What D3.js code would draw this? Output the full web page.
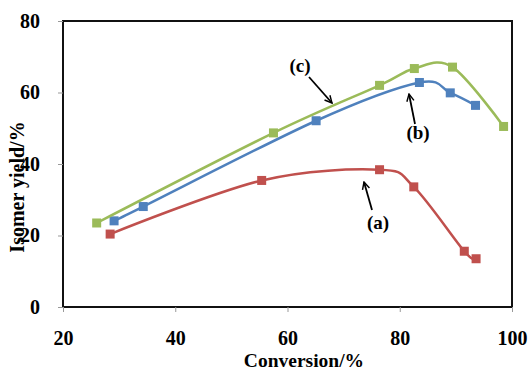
<!DOCTYPE html>
<html>
<head>
<meta charset="utf-8">
<script src="https://cdn.jsdelivr.net/npm/d3@7"></script>
<style>
body { margin: 0; background: #fff; }
svg { display: block; }
text { font-family: "Liberation Serif", "Times New Roman", serif; font-weight: bold; fill: #000; }
</style>
</head>
<body>
<svg id="chart" width="529" height="371"></svg>
<script>
// conversion (%) vs isomer yield (%)
var seriesA_x = [28.4, 55.4, 76.4, 82.5, 91.5, 93.6];
var seriesA_y = [20.4, 35.4, 38.4, 33.6, 15.6, 13.5];
var seriesB_x = [29.1, 34.3, 65.1, 83.5, 89.0, 93.5];
var seriesB_y = [24.1, 28.1, 52.1, 62.8, 59.9, 56.4];
var seriesC_x = [26.0, 57.5, 76.4, 82.6, 89.4, 98.5];
var seriesC_y = [23.5, 48.7, 62.0, 66.7, 67.1, 50.5];
var xTicks = [20, 40, 60, 80, 100];
var yTicks = [0, 20, 40, 60, 80];
var seriesNames = ['(a)', '(b)', '(c)'];

var svg = d3.select('#chart');
var m = { left: 63, top: 21, right: 512, bottom: 307 };

var x = d3.scaleLinear().domain([20, 100]).range([m.left, m.right]);
var y = d3.scaleLinear().domain([0, 80]).range([m.bottom, m.top]);

// frame
svg.append('rect')
	.attr('x', m.left).attr('y', m.top)
	.attr('width', m.right - m.left).attr('height', m.bottom - m.top)
	.attr('fill', 'none').attr('stroke', '#111').attr('stroke-width', 2);

var gx = svg.append('g').attr('transform', 'translate(0,' + m.bottom + ')')
	.call(d3.axisBottom(x).tickValues(xTicks).tickSize(5).tickPadding(19));
var gy = svg.append('g').attr('transform', 'translate(' + m.left + ',0)')
	.call(d3.axisLeft(y).tickValues(yTicks).tickSize(5).tickPadding(18));
[gx, gy].forEach(function(g){
	g.select('.domain').remove();
	g.selectAll('.tick line').attr('stroke', '#999');
	g.selectAll('.tick text').style('font-size', '20px').attr('fill', '#000');
});

svg.append('text').attr('x', 304).attr('y', 367)
	.attr('text-anchor', 'middle').style('font-size', '19.5px').text('Conversion/%');
svg.append('text').attr('transform', 'translate(24,187) rotate(-90)')
	.attr('text-anchor', 'middle').style('font-size', '20px').text('Isomer yield/%');

var series = [
	{ xs: seriesA_x, ys: seriesA_y, color: '#C0504D' },
	{ xs: seriesB_x, ys: seriesB_y, color: '#4F81BD' },
	{ xs: seriesC_x, ys: seriesC_y, color: '#9BBB59' }
];

var line = d3.line()
	.x(function(d){ return x(d[0]); })
	.y(function(d){ return y(d[1]); })
	.curve(d3.curveCardinal.tension(0));

series.forEach(function(s){
	var pts = d3.zip(s.xs, s.ys);
	svg.append('path').datum(pts)
		.attr('d', line)
		.attr('fill', 'none').attr('stroke', s.color).attr('stroke-width', 2.5);
	svg.selectAll(null).data(pts).enter().append('rect')
		.attr('x', function(d){ return x(d[0]) - 4.5; })
		.attr('y', function(d){ return y(d[1]) - 4.5; })
		.attr('width', 9).attr('height', 9)
		.attr('fill', s.color);
});

// annotation arrows
svg.append('defs').append('marker')
	.attr('id', 'head').attr('viewBox', '0 0 10 10')
	.attr('refX', 9).attr('refY', 5)
	.attr('markerWidth', 9).attr('markerHeight', 9)
	.attr('markerUnits', 'userSpaceOnUse')
	.attr('orient', 'auto')
	.append('path').attr('d', 'M1,1 L9,5 L1,9')
	.attr('fill', 'none').attr('stroke', '#000').attr('stroke-width', 1.6);

var notes = [
	{ label: seriesNames[2], tx: 300, ty: 72, from: [309, 77], to: [332, 103] },
	{ label: seriesNames[1], tx: 418, ty: 139, from: [415, 124], to: [409, 94] },
	{ label: seriesNames[0], tx: 378, ty: 229, from: [372, 210], to: [364, 182] }
];
notes.forEach(function(n){
	svg.append('line')
		.attr('x1', n.from[0]).attr('y1', n.from[1])
		.attr('x2', n.to[0]).attr('y2', n.to[1])
		.attr('stroke', '#000').attr('stroke-width', 1.8)
		.attr('marker-end', 'url(#head)');
	svg.append('text').attr('x', n.tx).attr('y', n.ty)
		.attr('text-anchor', 'middle').style('font-size', '19px').text(n.label);
});
</script>
</body>
</html>
